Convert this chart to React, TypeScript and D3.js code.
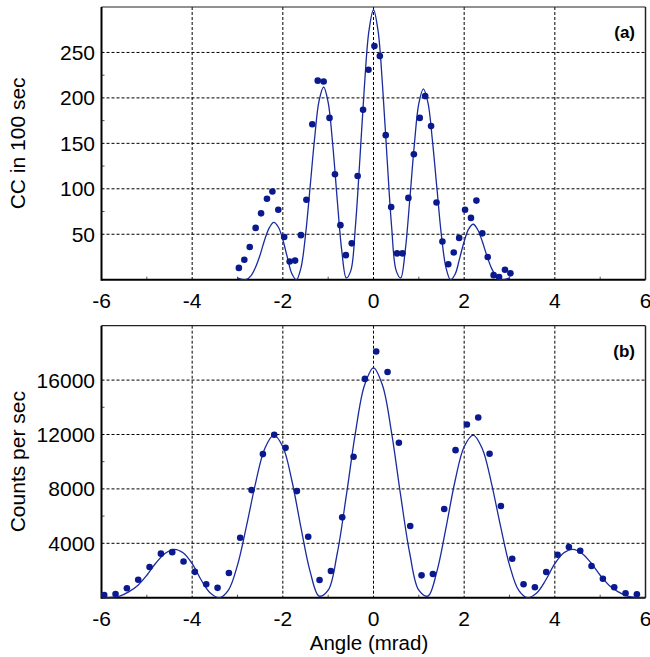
import React from "react";
import * as d3 from "d3";

// ---------- data ----------
const X_TICKS = [-6, -4, -2, 0, 2, 4, 6];
const X_GRID = [-4, -2, 0, 2, 4];
const X_MINOR = [-5, -3, -1, 1, 3, 5];

const A_Y_TICKS = [50, 100, 150, 200, 250];
const A_Y_MINOR = [75, 125, 175, 225];
const B_Y_TICKS = [4000, 8000, 12000, 16000];
const B_Y_MINOR = [6000, 10000, 14000];

// Panel (a) measured points
const A_PTS_X = [-2.97, -2.85, -2.73, -2.6, -2.48, -2.35, -2.23, -2.1, -1.97, -1.85, -1.73, -1.6, -1.48, -1.35, -1.23, -1.1, -0.97, -0.85, -0.73, -0.61, -0.48, -0.35, -0.23, -0.11, 0.02, 0.14, 0.27, 0.39, 0.52, 0.64, 0.77, 0.89, 1.02, 1.14, 1.27, 1.39, 1.52, 1.65, 1.77, 1.89, 2.02, 2.15, 2.27, 2.4, 2.52, 2.65, 2.77, 2.9, 3.02];
const A_PTS_Y = [13, 22, 36, 57, 73, 89, 97, 77, 47, 20, 21, 49, 88, 171, 219, 218, 178, 116, 60, 27, 40, 114, 187, 231, 257, 246, 159, 80, 29, 29, 90, 138, 178, 202, 169, 85, 42, 17, 30, 46, 77, 68, 87, 51, 25, 5, 3, 11, 7];

// Panel (a) fitted curve
const A_CURVE_X = [-3.0, -2.9, -2.8, -2.7, -2.6, -2.5, -2.4, -2.3, -2.2, -2.1, -2.0, -1.9, -1.8, -1.7, -1.6, -1.5, -1.4, -1.3, -1.2, -1.1, -1.0, -0.9, -0.8, -0.7, -0.6, -0.5, -0.4, -0.3, -0.2, -0.1, 0.0, 0.1, 0.2, 0.3, 0.4, 0.5, 0.6, 0.7, 0.8, 0.9, 1.0, 1.1, 1.2, 1.3, 1.4, 1.5, 1.6, 1.7, 1.8, 1.9, 2.0, 2.1, 2.2, 2.3, 2.4, 2.5, 2.6, 2.7, 2.8, 2.9, 3.0];
const A_CURVE_Y = [2, 0.3, 0.4, 4.5, 14, 27.5, 44, 57, 63, 58, 44, 24.5, 6.5, 0, 13, 49, 101, 155, 197, 212, 195, 149, 88, 32, 2, 10, 58, 133, 213, 274, 297, 274, 213, 133, 58, 10, 2, 32, 88, 148, 194, 210, 195, 153, 100, 48, 13, 0, 6, 23.5, 42, 56, 61, 55, 42, 26.5, 13, 4.3, 0.4, 0.3, 2];

// Panel (b) measured points
const B_PTS_X = [-5.94, -5.69, -5.44, -5.19, -4.94, -4.69, -4.44, -4.19, -3.94, -3.69, -3.44, -3.19, -2.94, -2.69, -2.44, -2.19, -1.94, -1.69, -1.44, -1.19, -0.94, -0.69, -0.44, -0.19, 0.06, 0.31, 0.56, 0.81, 1.06, 1.31, 1.56, 1.81, 2.06, 2.31, 2.56, 2.81, 3.06, 3.31, 3.56, 3.81, 4.06, 4.31, 4.56, 4.81, 5.06, 5.31, 5.56, 5.81];
const B_PTS_Y = [190, 272, 700, 1320, 2260, 3240, 3350, 2660, 1900, 985, 725, 1820, 4410, 7913, 10560, 11980, 11020, 7840, 4480, 1300, 1960, 5907, 10360, 16090, 18100, 16600, 11390, 5270, 1645, 1740, 6517, 10850, 12740, 13250, 10580, 6740, 2866, 985, 764, 1890, 3160, 3725, 3453, 2330, 1396, 764, 323, 250];

// Panel (b) fitted curve
const B_CURVE_X = [-6.0, -5.8, -5.6, -5.4, -5.2, -5.0, -4.8, -4.6, -4.4, -4.2, -4.0, -3.8, -3.6, -3.4, -3.2, -3.0, -2.8, -2.6, -2.4, -2.2, -2.0, -1.8, -1.6, -1.4, -1.2, -1.0, -0.8, -0.6, -0.4, -0.2, 0.0, 0.2, 0.4, 0.6, 0.8, 1.0, 1.2, 1.4, 1.6, 1.8, 2.0, 2.2, 2.4, 2.6, 2.8, 3.0, 3.2, 3.4, 3.6, 3.8, 4.0, 4.2, 4.4, 4.6, 4.8, 5.0, 5.2, 5.4, 5.6, 5.8, 6.0];
const B_CURVE_Y = [0, 15, 120, 430, 900, 1650, 2550, 3250, 3560, 3300, 2500, 1300, 350, 5, 560, 2400, 5300, 8450, 10950, 11950, 11100, 8600, 5150, 1950, 120, 550, 3250, 7500, 12100, 15600, 16900, 15600, 12100, 7500, 3250, 550, 120, 1950, 5150, 8600, 11100, 11950, 10950, 8450, 5300, 2400, 560, 5, 350, 1300, 2500, 3300, 3560, 3250, 2550, 1650, 900, 430, 120, 15, 0];

// ---------- layout ----------
const W = 650;
const H = 657;
const LEFT = 101.5;
const RIGHT = 645.5;
const FONT = "'Liberation Sans', Arial, Helvetica, sans-serif";
const DOT = "#0a1a8e";
const LINE = "#1a2b9e";

interface PanelProps {
  top: number;
  bottom: number;
  yMax: number;
  yTicks: number[];
  yMinor: number[];
  ptsX: number[];
  ptsY: number[];
  curveX: number[];
  curveY: number[];
  yLabel: string;
  tag: string;
  xTitle?: string;
}

function Panel(p: PanelProps) {
  const x = d3.scaleLinear().domain([-6, 6]).range([LEFT, RIGHT]);
  const y = d3.scaleLinear().domain([0, p.yMax]).range([p.bottom, p.top]);
  const line = d3
    .line<number>()
    .x((_, i) => x(p.curveX[i]))
    .y((d) => y(Math.max(0, d)))
    .curve(d3.curveCatmullRom.alpha(0.5));
  const path = line(p.curveY) || "";
  const midY = (p.top + p.bottom) / 2;
  const clipId = "clip-" + p.tag.replace(/[()]/g, "");
  return (
    <g>
      <defs>
        <clipPath id={clipId}>
          <rect x={LEFT} y={p.top} width={RIGHT - LEFT} height={p.bottom - p.top} />
        </clipPath>
      </defs>
      {/* grid */}
      {X_GRID.map((t) => (
        <line key={"gx" + t} x1={x(t)} x2={x(t)} y1={p.top} y2={p.bottom} stroke="#000" strokeWidth={1} strokeDasharray="3,2" />
      ))}
      {p.yTicks.map((t) => (
        <line key={"gy" + t} x1={LEFT} x2={RIGHT} y1={y(t)} y2={y(t)} stroke="#000" strokeWidth={1} strokeDasharray="3,2" />
      ))}
      {/* minor ticks */}
      {X_MINOR.map((t) => (
        <line key={"mx" + t} x1={x(t)} x2={x(t)} y1={p.bottom} y2={p.bottom - 3} stroke="#555" strokeWidth={1} />
      ))}
      {p.yMinor.map((t) => (
        <line key={"my" + t} x1={LEFT} x2={LEFT + 3} y1={y(t)} y2={y(t)} stroke="#555" strokeWidth={1} />
      ))}
      {/* frame */}
      <line x1={LEFT} x2={RIGHT} y1={p.top} y2={p.top} stroke="#222" strokeWidth={1.2} />
      <line x1={RIGHT} x2={RIGHT} y1={p.top} y2={p.bottom} stroke="#222" strokeWidth={1.5} />
      <line x1={LEFT} x2={RIGHT} y1={p.bottom} y2={p.bottom} stroke="#000" strokeWidth={2} />
      <line x1={LEFT} x2={LEFT} y1={p.top} y2={p.bottom + 1} stroke="#000" strokeWidth={2} />
      {/* curve */}
      <path d={path} fill="none" stroke={LINE} strokeWidth={1.3} clipPath={`url(#${clipId})`} />
      {/* points */}
      {p.ptsX.map((vx, i) => (
        <circle key={"p" + i} cx={x(vx)} cy={y(p.ptsY[i])} r={3.3} fill={DOT} />
      ))}
      {/* tick labels */}
      {X_TICKS.map((t) => (
        <text key={"tx" + t} x={x(t)} y={p.bottom + 28} textAnchor="middle" fontSize={21} fontFamily={FONT} fill="#000">
          {t}
        </text>
      ))}
      {p.yTicks.map((t) => (
        <text key={"ty" + t} x={LEFT - 6.5} y={y(t)} dy="0.36em" textAnchor="end" fontSize={21} fontFamily={FONT} fill="#000">
          {t}
        </text>
      ))}
      {/* y title */}
      <text
        transform={`translate(25,${midY}) rotate(-90)`}
        textAnchor="middle"
        fontSize={21}
        fontFamily={FONT}
        fill="#000"
      >
        {p.yLabel}
      </text>
      {/* tag */}
      <text x={635} y={p.top + 31} textAnchor="end" fontSize={17} fontWeight="bold" fontFamily={FONT} fill="#000">
        {p.tag}
      </text>
      {p.xTitle ? (
        <text x={369} y={p.bottom + 52} textAnchor="middle" fontSize={20.5} fontFamily={FONT} fill="#000">
          {p.xTitle}
        </text>
      ) : null}
    </g>
  );
}

export default function App() {
  return (
    <svg
      width={W}
      height={H}
      viewBox={`0 0 ${W} ${H}`}
      style={{ position: "absolute", left: 0, top: 0, background: "#fff" }}
    >
      <rect x={0} y={0} width={W} height={H} fill="#fff" />
      <Panel
        top={7}
        bottom={279.7}
        yMax={300}
        yTicks={A_Y_TICKS}
        yMinor={A_Y_MINOR}
        ptsX={A_PTS_X}
        ptsY={A_PTS_Y}
        curveX={A_CURVE_X}
        curveY={A_CURVE_Y}
        yLabel="CC in 100 sec"
        tag="(a)"
      />
      <Panel
        top={325.7}
        bottom={597.7}
        yMax={20000}
        yTicks={B_Y_TICKS}
        yMinor={B_Y_MINOR}
        ptsX={B_PTS_X}
        ptsY={B_PTS_Y}
        curveX={B_CURVE_X}
        curveY={B_CURVE_Y}
        yLabel="Counts per sec"
        tag="(b)"
        xTitle="Angle (mrad)"
      />
    </svg>
  );
}
